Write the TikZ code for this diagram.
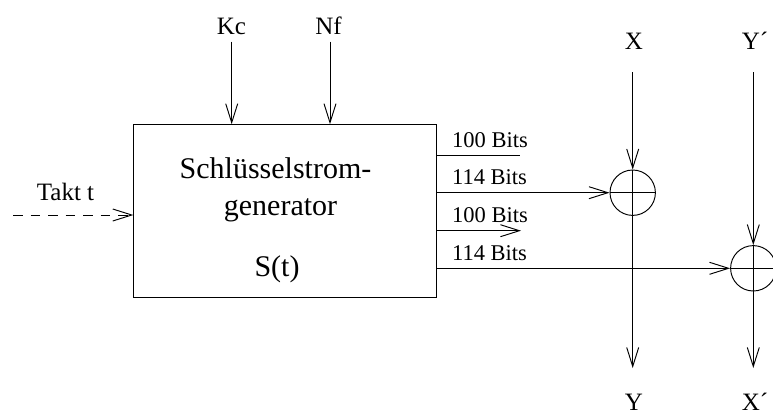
\documentclass[tikz,border=0pt]{standalone}
\usepackage{fontspec}
\setmainfont{Liberation Serif}
\usetikzlibrary{arrows.meta}
\tikzset{
  wire/.style={draw=black,line width=0.95pt},
  arr/.style={wire,-{Straight Barb[length=19pt,width=12pt,line width=0.95pt]}},
  lab/.style={inner sep=0pt,anchor=base,font=\fontsize{25}{25}\selectfont},
  big/.style={inner sep=0pt,anchor=base,font=\fontsize{30}{30}\selectfont},
  bits/.style={inner sep=0pt,anchor=base west,font=\fontsize{22.5}{22.5}\selectfont},
  xorc/.style={circle,draw=black,line width=0.95pt,minimum size=45.4pt,inner sep=0pt},
  block/.style={draw=black,line width=0.95pt,minimum width=303pt,minimum height=172.6pt,inner sep=0pt}
}
\begin{document}
\begin{tikzpicture}[x=1pt,y=-1pt]
\useasboundingbox (0,0) rectangle (773,413);
\begin{scope}
\clip (0,0) rectangle (773,413);
\node[block] (gen) at (285.3,211) {};
\node[xorc] (c1) at (632.7,192.7) {};
\node[xorc] (c2) at (753.3,268.3) {};
\node[big] (t1) at (275.5,178) {Schlüsselstrom-};
\node[big] (t2) at (280.5,215) {generator};
\node[big] (t3) at (277,276) {S(t)};
\node[lab] (kc) at (231.5,34) {Kc};
\node[lab] (nf) at (328.5,34) {Nf};
\node[lab] (takt) at (65.5,200) {Takt t};
\node[lab] (x) at (634,49) {X};
\node[lab] (yp) at (755,49) {Y´};
\node[lab] (y) at (634,410) {Y};
\node[lab] (xp) at (755,410) {X´};
\node[bits] (b1) at (452,147) {100 Bits};
\node[bits] (b2) at (452,184.5) {114 Bits};
\node[bits] (b3) at (452,222) {100 Bits};
\node[bits] (b4) at (452,260) {114 Bits};
\coordinate (kcs) at (231.7,41.5);
\coordinate (nfs) at (330,41.5);
\coordinate (tks) at (13,215);
\coordinate (xs) at (632.7,72);
\coordinate (ys) at (753.3,72);
\coordinate (xe) at (632.7,368);
\coordinate (ye) at (753.3,368);
\coordinate (e1) at (519.5,155);
\coordinate (e3) at (521,230.7);
\draw[arr] (kcs) -- (kcs |- gen.north);
\draw[arr] (nfs) -- (nfs |- gen.north);
\draw[arr,dash pattern=on 9.5pt off 8pt] (tks) -- (tks -| gen.west);
\draw[wire] (gen.east |- e1) -- (e1);
\draw[arr] (gen.east |- c1) -- (c1.west);
\draw[wire] (c1.west) -- (c1.east);
\draw[arr] (gen.east |- e3) -- (e3);
\draw[arr] (gen.east |- c2) -- (c2.west);
\draw[wire] (c2.west) -- (c2.east);
\draw[arr] (xs) -- (c1.north);
\draw[arr] (c1.north) -- (xe);
\draw[arr] (ys) -- (c2.north);
\draw[arr] (c2.north) -- (ye);
\end{scope}
\end{tikzpicture}
\end{document}
